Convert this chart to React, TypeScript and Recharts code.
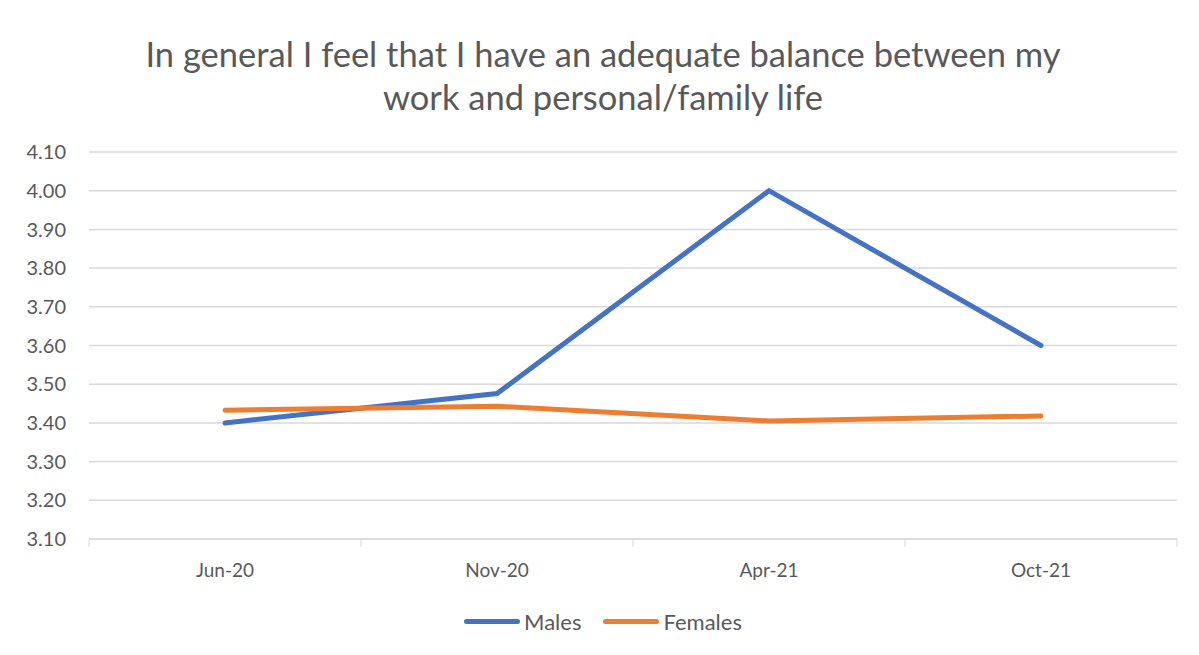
import { LineChart, Line, XAxis, YAxis, CartesianGrid, Legend } from "recharts";

const months = ["Jun-20", "Nov-20", "Apr-21", "Oct-21"];
const males = [3.4, 3.476, 4.0, 3.6];
const females = [3.433, 3.443, 3.405, 3.418];
const yTicks = [3.1, 3.2, 3.3, 3.4, 3.5, 3.6, 3.7, 3.8, 3.9, 4.0, 4.1];

const BLUE = "#4472C4";
const ORANGE = "#ED7D31";
const TEXT = "#595959";
const GRID = "#d9d9d9";
const FONT = "Lato, 'Open Sans', sans-serif";

const data = months.map((m, i) => ({ month: m, Males: males[i], Females: females[i] }));

function MonthTick(props: any) {
  const { x, y, payload, index, visibleTicksCount, width } = props;
  const step = width / visibleTicksCount;
  return (
    <g>
      <line x1={x - step / 2} x2={x - step / 2} y1={y} y2={y + 8} stroke={GRID} />
      {index === visibleTicksCount - 1 && (
        <line x1={x + step / 2} x2={x + step / 2} y1={y} y2={y + 8} stroke={GRID} />
      )}
      <text x={x} y={y + 38} textAnchor="middle" fill={TEXT} fontSize={19} fontFamily={FONT}>
        {payload.value}
      </text>
    </g>
  );
}

function LegendBox() {
  const items = [
    { name: "Males", color: BLUE },
    { name: "Females", color: ORANGE },
  ];
  return (
    <div style={{ display: "flex", justifyContent: "center", alignItems: "center", height: 24, gap: 22 }}>
      {items.map((it) => (
        <div key={it.name} style={{ display: "flex", alignItems: "center" }}>
          <div style={{ width: 56, height: 5, borderRadius: 3, background: it.color, marginRight: 4 }} />
          <span style={{ color: TEXT, fontSize: 22, fontFamily: FONT }}>{it.name}</span>
        </div>
      ))}
    </div>
  );
}

export default function App() {
  return (
    <div
      style={{
        position: "relative",
        width: 1190,
        height: 648,
        marginLeft: -1,
        marginTop: -1,
        border: `1px solid ${GRID}`,
        background: "#fff",
      }}
    >
      <div
        style={{
          position: "absolute",
          top: 24,
          left: 0,
          width: "100%",
          textAlign: "center",
          fontFamily: FONT,
          fontSize: 34.5,
          lineHeight: "43px",
          color: TEXT,
          zIndex: 1,
        }}
      >
        In general I feel that I have an adequate balance between my
        <br />
        work and personal/family life
      </div>
      <LineChart
        width={1190}
        height={648}
        data={data}
        margin={{ top: 144, right: 21, bottom: 43, left: 21 }}
      >
        <CartesianGrid vertical={false} stroke={GRID} strokeWidth={1.5} />
        <XAxis
          dataKey="month"
          scale="band"
          height={50}
          tickSize={0}
          tickMargin={0}
          axisLine={{ stroke: GRID, strokeWidth: 1.5 }}
          tickLine={false}
          interval={0}
          tick={<MonthTick />}
        />
        <YAxis
          domain={[3.1, 4.1]}
          ticks={yTicks}
          width={60}
          axisLine={false}
          tickLine={false}
          tickSize={0}
          tickMargin={23}
          tickFormatter={(v: number) => v.toFixed(2)}
          tick={{ fill: TEXT, fontSize: 20, fontFamily: FONT }}
        />
        <Legend
          verticalAlign="bottom"
          content={<LegendBox />}
          wrapperStyle={{ top: 601, bottom: "auto", left: 0, width: 1190 }}
        />
        <Line
          dataKey="Males"
          stroke={BLUE}
          strokeWidth={5}
          dot={false}
          strokeLinecap="round"
          isAnimationActive={false}
        />
        <Line
          dataKey="Females"
          stroke={ORANGE}
          strokeWidth={5}
          dot={false}
          strokeLinecap="round"
          isAnimationActive={false}
        />
      </LineChart>
    </div>
  );
}
